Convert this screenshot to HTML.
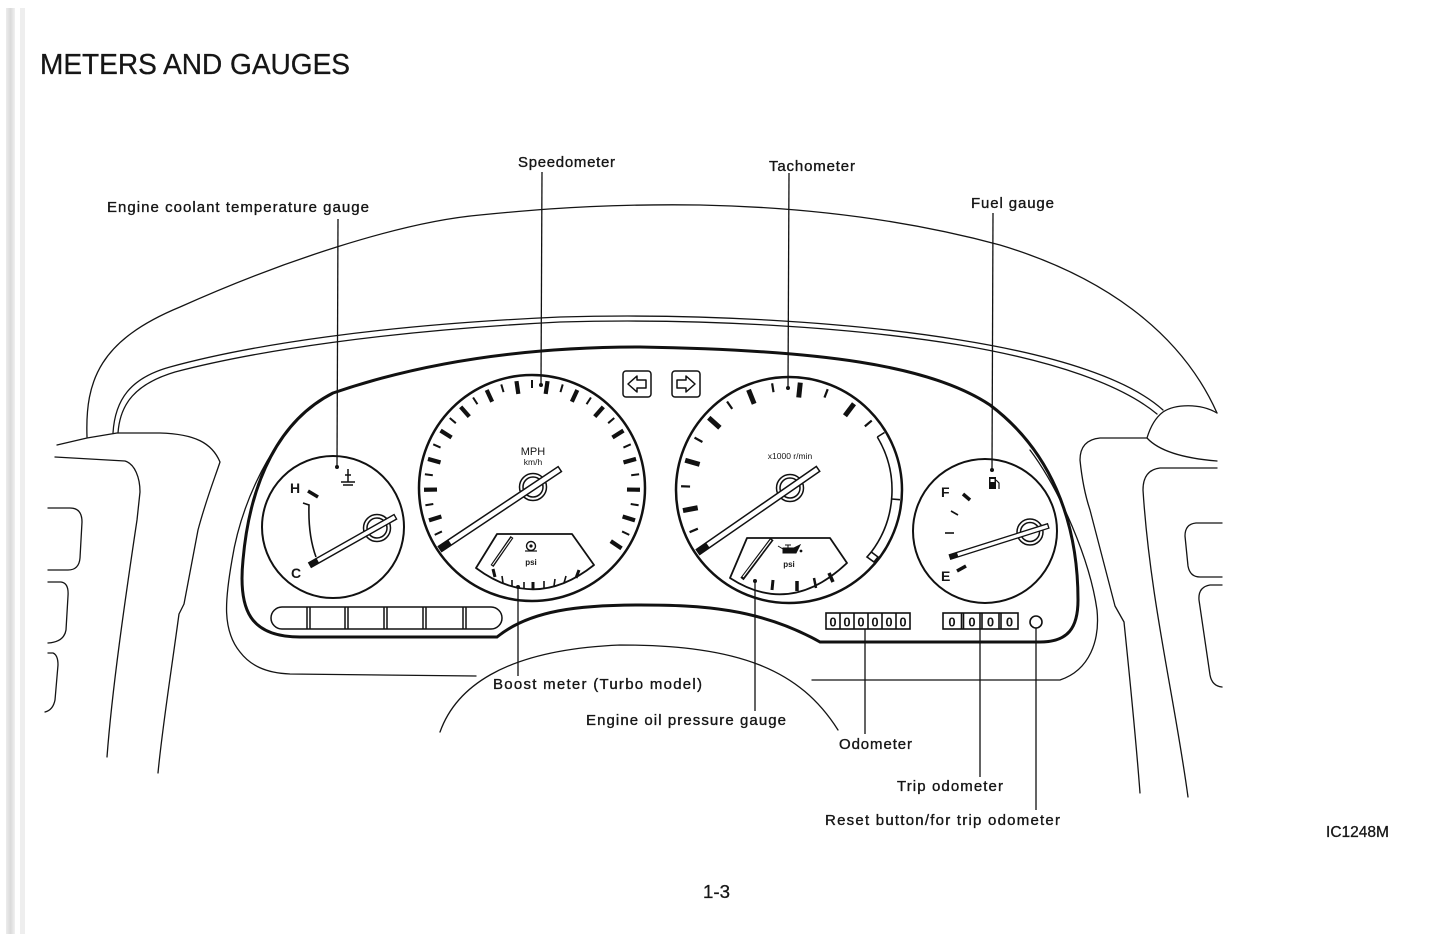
<!DOCTYPE html>
<html><head><meta charset="utf-8">
<style>
html,body{margin:0;padding:0;background:#fff;}
svg{display:block;}
text{font-family:"Liberation Sans",Arial,sans-serif;fill:#161616;}
</style></head>
<body>
<svg width="1445" height="934" viewBox="0 0 1445 934" xmlns="http://www.w3.org/2000/svg">
<defs>
<linearGradient id="stripe" x1="0" x2="1" y1="0" y2="0">
<stop offset="0" stop-color="#ececec"/><stop offset="0.5" stop-color="#dadada"/><stop offset="1" stop-color="#f0f0f0"/>
</linearGradient>
</defs>
<rect width="1445" height="934" fill="#fff"/>
<!-- left page stripe -->
<rect x="6" y="8" width="9" height="926" fill="url(#stripe)"/>
<rect x="20" y="8" width="5" height="926" fill="#eeeeee"/>

<!-- Title -->
<text x="40" y="74" font-size="29" textLength="310" lengthAdjust="spacingAndGlyphs" stroke="#161616" stroke-width="0.3">METERS AND GAUGES</text>

<!-- thin outline drawing -->
<g fill="none" stroke="#141414" stroke-width="1.3" stroke-linecap="round" stroke-linejoin="round">
  <!-- hood outer line -->
  <path d="M87,437 C85,380 100,340 180,307 C280,262 400,222 480,215 C560,207 620,204 700,205 C800,207 900,218 1000,245 C1100,275 1180,330 1217,413"/>
  <!-- windshield trim double line -->
  <path d="M113,433 C115,400 130,378 170,367 C250,345 380,325 560,317 C700,313 850,322 960,340 C1060,356 1130,380 1163,410"/>
  <path d="M118,433 C120,404 135,384 175,372 C255,351 385,331 560,322 C700,318 850,327 960,345 C1055,361 1122,385 1157,414"/>
  <!-- right bump -->
  <path d="M1217,413 C1200,403 1175,404 1163,412 C1155,418 1150,428 1147,438 C1158,450 1180,458 1217,461"/>
  <!-- left housing pieces -->
  <path d="M57,445 L87,438 L117,433 L160,433 C195,434 212,443 220,462 C214,480 206,500 198,530 L184,604 L179,614 C170,680 162,730 158,773"/>
  <path d="M55,457 L125,461 C135,464 140,478 140,492 L137,520 C125,600 112,690 107,757"/>
  <!-- left vents -->
  <path d="M48,508 L70,508 Q82,508 82,522 L80,558 Q79,570 68,570 L48,570"/>
  <path d="M48,582 L61,582 Q69,583 68,596 L66,630 Q64,642 48,643"/>
  <path d="M48,653 L53,653 Q58,655 58,665 L55,700 Q53,710 45,712"/>
  <!-- right housing pieces -->
  <path d="M1147,438 L1100,438 Q1080,440 1080,460 C1082,480 1085,495 1090,510 L1115,606 L1124,622 C1130,680 1136,740 1140,793"/>
  <path d="M1217,468 L1160,468 Q1143,470 1143,490 C1150,600 1175,700 1188,797"/>
  <!-- right vents -->
  <path d="M1222,523 L1196,523 Q1185,524 1185,536 L1188,566 Q1190,577 1200,577 L1222,577"/>
  <path d="M1222,585 L1210,585 Q1198,587 1199,600 L1210,675 Q1212,686 1222,687"/>
  <!-- cluster housing (outer thin) -->
  <path d="M305,412 C265,450 240,510 232,560 C225,600 222,630 240,652 C250,665 265,673 290,674 L476,676"/>
  <path d="M1030,450 C1060,490 1090,560 1097,610 C1100,640 1090,670 1060,680 L812,680"/>
  <!-- steering hump -->
  <path d="M440,732 C455,690 500,650 620,645 C740,645 800,670 838,730"/>
</g>

<!-- thick cluster bezel -->
<path d="M300,637 L497,637 C530,610 580,605 640,605 C700,605 760,608 820,642 L1040,642 C1068,642 1078,628 1078,600 C1078,520 1050,450 990,405 C930,365 820,350 640,347 C500,347 400,370 333,393 C280,420 250,480 243,560 C238,610 250,637 300,637 Z" fill="none" stroke="#111" stroke-width="3"/>

<!-- ============ Coolant gauge ============ -->
<circle cx="333" cy="527" r="71" fill="none" stroke="#111" stroke-width="2"/>
<text x="290" y="493" font-size="14" font-weight="bold">H</text>
<text x="291" y="578" font-size="14" font-weight="bold">C</text>
<line x1="308" y1="491" x2="318" y2="497" stroke="#111" stroke-width="3.5"/>
<path d="M303,503 L309,505 Q308,535 316,557" fill="none" stroke="#111" stroke-width="1.6"/>
<!-- coolant symbol -->
<g stroke="#111" stroke-width="1.5" fill="none">
  <line x1="348" y1="469" x2="348" y2="482"/>
  <line x1="345" y1="475" x2="351" y2="475"/>
  <line x1="341" y1="482" x2="355" y2="482"/>
  <line x1="343" y1="485" x2="353" y2="485"/>
</g>
<circle cx="377" cy="528" r="13.5" fill="#fff" stroke="#111" stroke-width="1.5"/>
<circle cx="377" cy="528" r="10" fill="none" stroke="#111" stroke-width="1.5"/>
<g transform="translate(310,565) rotate(-29.46)">
  <rect x="0" y="-2.6" width="98" height="5.2" fill="#fff" stroke="#111" stroke-width="1.4"/>
  <rect x="0" y="-2.6" width="9" height="5.2" fill="#111"/>
</g>

<!-- ============ Speedometer ============ -->
<circle cx="532" cy="488" r="113" fill="none" stroke="#111" stroke-width="2.5"/>
<g transform="translate(532,488)" stroke="#111">
  <g stroke-width="4.2">
    <line x1="0" y1="-108" x2="0" y2="-95" transform="rotate(-107.47)"/>
    <line x1="0" y1="-108" x2="0" y2="-95" transform="rotate(-90.93)"/>
    <line x1="0" y1="-108" x2="0" y2="-95" transform="rotate(-74.4)"/>
    <line x1="0" y1="-108" x2="0" y2="-95" transform="rotate(-57.87)"/>
    <line x1="0" y1="-108" x2="0" y2="-95" transform="rotate(-41.33)"/>
    <line x1="0" y1="-108" x2="0" y2="-95" transform="rotate(-24.8)"/>
    <line x1="0" y1="-108" x2="0" y2="-95" transform="rotate(-8.27)"/>
    <line x1="0" y1="-108" x2="0" y2="-95" transform="rotate(8.27)"/>
    <line x1="0" y1="-108" x2="0" y2="-95" transform="rotate(24.8)"/>
    <line x1="0" y1="-108" x2="0" y2="-95" transform="rotate(41.33)"/>
    <line x1="0" y1="-108" x2="0" y2="-95" transform="rotate(57.87)"/>
    <line x1="0" y1="-108" x2="0" y2="-95" transform="rotate(74.4)"/>
    <line x1="0" y1="-108" x2="0" y2="-95" transform="rotate(90.93)"/>
    <line x1="0" y1="-108" x2="0" y2="-95" transform="rotate(107.47)"/>
    <line x1="0" y1="-108" x2="0" y2="-95" transform="rotate(124)"/>
  </g>
  <g stroke-width="2">
    <line x1="0" y1="-108" x2="0" y2="-100" transform="rotate(-115.73)"/>
    <line x1="0" y1="-108" x2="0" y2="-100" transform="rotate(-99.2)"/>
    <line x1="0" y1="-108" x2="0" y2="-100" transform="rotate(-82.67)"/>
    <line x1="0" y1="-108" x2="0" y2="-100" transform="rotate(-66.13)"/>
    <line x1="0" y1="-108" x2="0" y2="-100" transform="rotate(-49.6)"/>
    <line x1="0" y1="-108" x2="0" y2="-100" transform="rotate(-33.07)"/>
    <line x1="0" y1="-108" x2="0" y2="-100" transform="rotate(-16.53)"/>
    <line x1="0" y1="-108" x2="0" y2="-100" transform="rotate(0)"/>
    <line x1="0" y1="-108" x2="0" y2="-100" transform="rotate(16.53)"/>
    <line x1="0" y1="-108" x2="0" y2="-100" transform="rotate(33.07)"/>
    <line x1="0" y1="-108" x2="0" y2="-100" transform="rotate(49.6)"/>
    <line x1="0" y1="-108" x2="0" y2="-100" transform="rotate(66.13)"/>
    <line x1="0" y1="-108" x2="0" y2="-100" transform="rotate(82.67)"/>
    <line x1="0" y1="-108" x2="0" y2="-100" transform="rotate(99.2)"/>
    <line x1="0" y1="-108" x2="0" y2="-100" transform="rotate(115.73)"/>
  </g>
</g>
<text x="533" y="455" font-size="11" text-anchor="middle">MPH</text>
<text x="533" y="465" font-size="8.5" text-anchor="middle">km/h</text>
<!-- boost sub gauge -->
<path d="M497,534 L572,534 L594,565 Q535,612 476,568 Z" fill="none" stroke="#111" stroke-width="1.8" stroke-linejoin="round"/>
<g stroke="#111" stroke-width="1.6">
  <line x1="493" y1="569" x2="495" y2="577" stroke-width="3"/>
  <line x1="502" y1="576" x2="503" y2="583"/>
  <line x1="512" y1="580" x2="512" y2="587"/>
  <line x1="524" y1="582" x2="524" y2="589"/>
  <line x1="533" y1="582" x2="533" y2="590" stroke-width="3"/>
  <line x1="544" y1="581" x2="544" y2="588"/>
  <line x1="555" y1="579" x2="554" y2="586"/>
  <line x1="566" y1="576" x2="564" y2="583"/>
  <line x1="579" y1="570" x2="576" y2="578" stroke-width="3"/>
</g>
<line x1="492" y1="566" x2="512" y2="537" stroke="#111" stroke-width="3.5"/>
<line x1="492.5" y1="565" x2="511.5" y2="538" stroke="#fff" stroke-width="1"/>
<circle cx="531" cy="546" r="4.5" fill="none" stroke="#111" stroke-width="1.4"/>
<circle cx="531" cy="546" r="1.6" fill="#111"/>
<path d="M525,551 L537,551" stroke="#111" stroke-width="1.2"/>
<text x="531" y="565" font-size="8" font-weight="bold" text-anchor="middle">psi</text>
<circle cx="533" cy="487" r="13.5" fill="#fff" stroke="#111" stroke-width="1.5"/>
<circle cx="533" cy="487" r="10" fill="none" stroke="#111" stroke-width="1.5"/>
<g transform="translate(440,549) rotate(-33.7)">
  <rect x="0" y="-3" width="144" height="6" fill="#fff" stroke="#111" stroke-width="1.5"/>
  <rect x="0" y="-3" width="12" height="6" fill="#111"/>
</g>

<!-- turn signal indicators -->
<g fill="none" stroke="#111" stroke-width="1.5" stroke-linejoin="round">
  <rect x="623" y="371" width="28" height="26" rx="3"/>
  <path d="M628,384 L637,376 L637,380 L646,380 L646,388 L637,388 L637,392 Z"/>
  <rect x="672" y="371" width="28" height="26" rx="3"/>
  <path d="M695,384 L686,376 L686,380 L677,380 L677,388 L686,388 L686,392 Z"/>
</g>

<!-- ============ Tachometer ============ -->
<circle cx="789" cy="490" r="113" fill="none" stroke="#111" stroke-width="2.5"/>
<g transform="translate(789,490)" stroke="#111">
  <g stroke-width="5">
    <line x1="0" y1="-108" x2="0" y2="-93" transform="rotate(-101)"/>
    <line x1="0" y1="-108" x2="0" y2="-93" transform="rotate(-74)"/>
    <line x1="0" y1="-108" x2="0" y2="-93" transform="rotate(-48)"/>
    <line x1="0" y1="-108" x2="0" y2="-93" transform="rotate(-22)"/>
    <line x1="0" y1="-108" x2="0" y2="-93" transform="rotate(6)"/>
    <line x1="0" y1="-108" x2="0" y2="-93" transform="rotate(37)"/>
  </g>
  <g stroke-width="2.2">
    <line x1="0" y1="-108" x2="0" y2="-99" transform="rotate(-113)"/>
    <line x1="0" y1="-108" x2="0" y2="-99" transform="rotate(-88)"/>
    <line x1="0" y1="-108" x2="0" y2="-99" transform="rotate(-61)"/>
    <line x1="0" y1="-108" x2="0" y2="-99" transform="rotate(-35)"/>
    <line x1="0" y1="-108" x2="0" y2="-99" transform="rotate(-9)"/>
    <line x1="0" y1="-108" x2="0" y2="-99" transform="rotate(21)"/>
    <line x1="0" y1="-108" x2="0" y2="-99" transform="rotate(50)"/>
  </g>
</g>
<!-- redline band -->
<g fill="none" stroke="#111" stroke-width="1.6">
  <path d="M877.3,437 A103,103 0 0 1 871.3,552"/>
  <line x1="877.3" y1="437" x2="884.5" y2="432.5"/>
  <line x1="891.6" y1="499" x2="900" y2="499.7"/>
  <path d="M871.3,552 L878,557 L874,562 L867,557 Z" fill="#fff"/>
</g>
<text x="790" y="459" font-size="8.5" text-anchor="middle">x1000 r/min</text>
<!-- oil sub gauge -->
<path d="M747,538 L830,538 L847,563 Q790,617 730,578 Z" fill="none" stroke="#111" stroke-width="1.8" stroke-linejoin="round"/>
<g stroke="#111" stroke-width="2">
  <line x1="773" y1="580" x2="772" y2="590" stroke-width="3"/>
  <line x1="797" y1="581" x2="797" y2="591" stroke-width="3.5"/>
  <line x1="814" y1="578" x2="816" y2="588" stroke-width="2.5"/>
  <line x1="829" y1="573" x2="833" y2="582" stroke-width="3.5"/>
</g>
<line x1="742" y1="579" x2="772" y2="539" stroke="#111" stroke-width="4"/>
<line x1="743" y1="577" x2="771" y2="540" stroke="#fff" stroke-width="1.2"/>
<!-- oil can -->
<g fill="#111" stroke="#111" stroke-width="1">
  <path d="M783,548 L794,548 L800,545 L796,553 L783,553 Z"/>
  <line x1="778" y1="546" x2="783" y2="549"/>
  <line x1="788" y1="545" x2="788" y2="548"/>
  <line x1="785" y1="545" x2="791" y2="545"/>
  <circle cx="801" cy="551" r="0.9"/>
</g>
<text x="789" y="567" font-size="8" font-weight="bold" text-anchor="middle">psi</text>
<circle cx="790" cy="488" r="13.5" fill="#fff" stroke="#111" stroke-width="1.5"/>
<circle cx="790" cy="488" r="10" fill="none" stroke="#111" stroke-width="1.5"/>
<g transform="translate(698,552) rotate(-34.7)">
  <rect x="0" y="-3" width="146" height="6" fill="#fff" stroke="#111" stroke-width="1.5"/>
  <rect x="0" y="-3" width="12" height="6" fill="#111"/>
</g>

<!-- ============ Fuel gauge ============ -->
<circle cx="985" cy="531" r="72" fill="none" stroke="#111" stroke-width="2"/>
<text x="941" y="497" font-size="14" font-weight="bold">F</text>
<text x="941" y="581" font-size="14" font-weight="bold">E</text>
<g stroke="#111">
  <line x1="963" y1="494" x2="970" y2="500" stroke-width="3.5"/>
  <line x1="951" y1="511" x2="958" y2="515" stroke-width="1.6"/>
  <line x1="945" y1="533" x2="954" y2="533" stroke-width="1.6"/>
  <line x1="957" y1="571" x2="966" y2="566" stroke-width="3.5"/>
</g>
<rect x="989" y="477" width="7" height="12" fill="#111"/>
<rect x="990.5" y="479" width="4" height="3" fill="#fff"/>
<path d="M996,480 L999,483 L999,489" fill="none" stroke="#111" stroke-width="1.2"/>
<circle cx="1030" cy="532" r="13" fill="#fff" stroke="#111" stroke-width="1.5"/>
<circle cx="1030" cy="532" r="9.5" fill="none" stroke="#111" stroke-width="1.5"/>
<g transform="translate(950,557) rotate(-17.55)">
  <rect x="0" y="-2.3" width="103" height="4.6" fill="#fff" stroke="#111" stroke-width="1.3"/>
  <rect x="0" y="-2.3" width="8" height="4.6" fill="#111"/>
</g>

<!-- warning light strip -->
<g fill="none" stroke="#111" stroke-width="1.5">
  <rect x="271" y="607" width="231" height="22" rx="11"/>
  <line x1="307" y1="607" x2="307" y2="629"/><line x1="310" y1="607" x2="310" y2="629"/>
  <line x1="345" y1="607" x2="345" y2="629"/><line x1="348" y1="607" x2="348" y2="629"/>
  <line x1="384" y1="607" x2="384" y2="629"/><line x1="387" y1="607" x2="387" y2="629"/>
  <line x1="423" y1="607" x2="423" y2="629"/><line x1="426" y1="607" x2="426" y2="629"/>
  <line x1="463" y1="607" x2="463" y2="629"/><line x1="466" y1="607" x2="466" y2="629"/>
</g>

<!-- odometer -->
<g fill="none" stroke="#111" stroke-width="1.6">
  <rect x="826" y="613" width="84" height="16"/>
  <line x1="840" y1="613" x2="840" y2="629"/><line x1="854" y1="613" x2="854" y2="629"/>
  <line x1="868" y1="613" x2="868" y2="629"/><line x1="882" y1="613" x2="882" y2="629"/>
  <line x1="896" y1="613" x2="896" y2="629"/>
  <rect x="943" y="613" width="75" height="16"/>
  <line x1="961.5" y1="613" x2="961.5" y2="629"/><line x1="963.5" y1="613" x2="963.5" y2="629"/>
  <line x1="980" y1="613" x2="980" y2="629"/><line x1="982" y1="613" x2="982" y2="629"/>
  <line x1="999" y1="613" x2="999" y2="629"/><line x1="1001" y1="613" x2="1001" y2="629"/>
  <circle cx="1036" cy="622" r="6"/>
</g>
<g font-size="13" font-weight="bold" text-anchor="middle">
  <text x="833" y="626.5">0</text><text x="847" y="626.5">0</text><text x="861" y="626.5">0</text>
  <text x="875" y="626.5">0</text><text x="889" y="626.5">0</text><text x="903" y="626.5">0</text>
  <text x="952" y="626.5">0</text><text x="972" y="626.5">0</text><text x="990.5" y="626.5">0</text><text x="1009.5" y="626.5">0</text>
</g>

<!-- leader lines -->
<g stroke="#111" stroke-width="1.3">
  <line x1="338" y1="219" x2="337" y2="467"/>
  <line x1="542" y1="172" x2="541" y2="385"/>
  <line x1="789" y1="173" x2="788" y2="388"/>
  <line x1="993" y1="213" x2="992" y2="470"/>
  <line x1="518" y1="587" x2="518" y2="676"/>
  <line x1="755" y1="581" x2="755" y2="711"/>
  <line x1="865" y1="629" x2="865" y2="734"/>
  <line x1="980" y1="629" x2="980" y2="777"/>
  <line x1="1036" y1="628" x2="1036" y2="810"/>
</g>
<g fill="#111">
  <circle cx="337" cy="467" r="2"/>
  <circle cx="541" cy="385" r="2"/>
  <circle cx="788" cy="388" r="2"/>
  <circle cx="992" cy="470" r="2"/>
  <circle cx="518" cy="587" r="2"/>
  <circle cx="755" cy="581" r="2"/>
</g>

<!-- labels -->
<g font-size="15" stroke="#161616" stroke-width="0.35">
  <text x="107" y="212" textLength="262" lengthAdjust="spacing">Engine coolant temperature gauge</text>
  <text x="518" y="167" textLength="97" lengthAdjust="spacing">Speedometer</text>
  <text x="769" y="171" textLength="86" lengthAdjust="spacing">Tachometer</text>
  <text x="971" y="208" textLength="83" lengthAdjust="spacing">Fuel gauge</text>
  <text x="493" y="689" textLength="209" lengthAdjust="spacing">Boost meter (Turbo model)</text>
  <text x="586" y="725" textLength="200" lengthAdjust="spacing">Engine oil pressure gauge</text>
  <text x="839" y="749" textLength="73" lengthAdjust="spacing">Odometer</text>
  <text x="897" y="791" textLength="106" lengthAdjust="spacing">Trip odometer</text>
  <text x="825" y="825" textLength="235" lengthAdjust="spacing">Reset button/for trip odometer</text>
</g>
<text x="1326" y="837" font-size="15.5" textLength="63" lengthAdjust="spacingAndGlyphs" stroke="#161616" stroke-width="0.3">IC1248M</text>
<text x="703" y="898" font-size="18.5" textLength="27" lengthAdjust="spacingAndGlyphs" stroke="#161616" stroke-width="0.3">1-3</text>
</svg>
</body></html>
